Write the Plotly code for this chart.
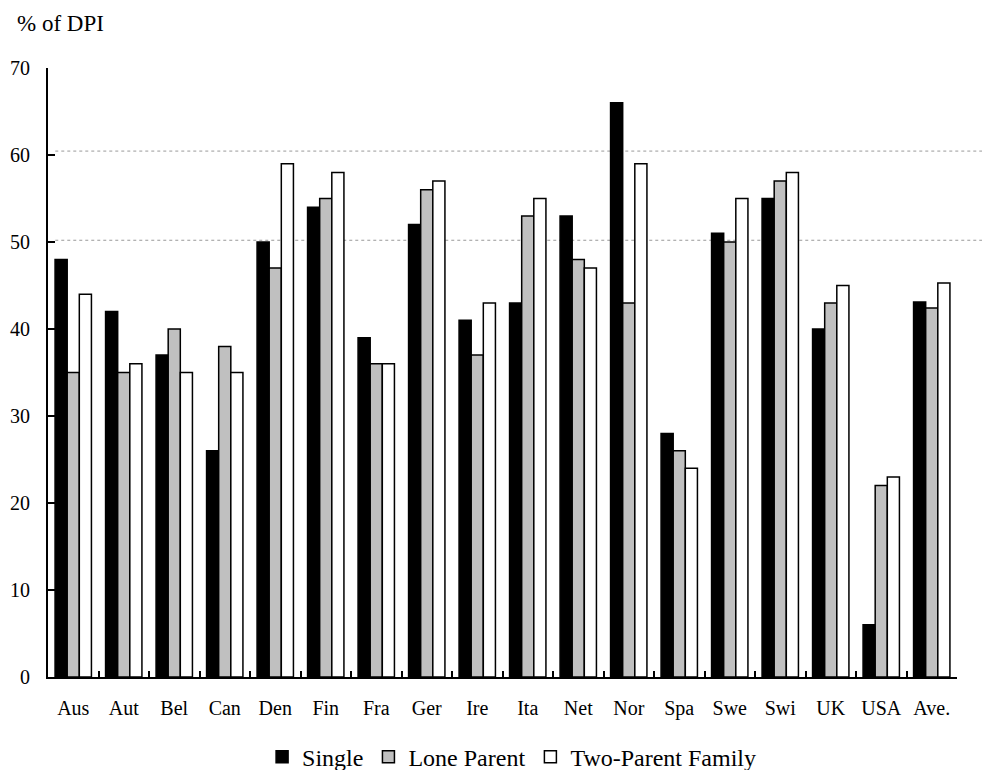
import plotly.graph_objects as go

countries = ['Aus', 'Aut', 'Bel', 'Can', 'Den', 'Fin', 'Fra', 'Ger', 'Ire',
             'Ita', 'Net', 'Nor', 'Spa', 'Swe', 'Swi', 'UK', 'USA', 'Ave.']
single = [48, 42, 37, 26, 50, 54, 39, 52, 41, 43, 53, 66, 28, 51, 55, 40, 6, 43.1]
lone_parent = [35, 35, 40, 38, 47, 55, 36, 56, 37, 53, 48, 43, 26, 50, 57, 43, 22, 42.4]
two_parent = [44, 36, 35, 35, 59, 58, 36, 57, 43, 55, 47, 59, 24, 55, 58, 45, 23, 45.3]
y_ticks = [0, 10, 20, 30, 40, 50, 60, 70]
ref_lines = [50.2, 60.45]

FONT = 'Liberation Serif, Times New Roman, serif'

fig = go.Figure()
for name, vals, color in [('Single', single, 'black'),
                          ('Lone Parent', lone_parent, '#c0c0c0'),
                          ('Two-Parent Family', two_parent, 'white')]:
    fig.add_trace(go.Bar(x=countries, y=vals, name=name,
                         marker=dict(color=color, line=dict(color='black', width=1.5))))

# dotted reference lines across the plot
for v in ref_lines:
    fig.add_shape(type='line', xref='paper', yref='y', x0=0.008, x1=1.04, y0=v, y1=v,
                  line=dict(color='#999999', width=1, dash='dot'), layer='below')

# axis unit label, top-left
fig.add_annotation(text='% of DPI', xref='paper', yref='paper', x=-0.036, y=1.097,
                   xanchor='left', yanchor='top', showarrow=False,
                   font=dict(size=23, family=FONT, color='black'))

# page body adds an 8px margin, so the figure is 16px smaller than the window
fig.update_layout(
    width=974, height=762,
    template='none',
    barmode='group', bargap=0.28, bargroupgap=0,
    plot_bgcolor='white', paper_bgcolor='white',
    margin=dict(l=40, r=25, t=60, b=93),
    font=dict(family=FONT, size=20, color='black'),
    showlegend=True,
    legend=dict(orientation='h', x=0.51, xanchor='center',
                yref='container', y=0.017, yanchor='middle',
                font=dict(size=24), itemwidth=30, traceorder='normal'),
    xaxis=dict(showline=True, linecolor='black', linewidth=2, ticks='inside',
               tickson='boundaries', ticklen=6, tickwidth=2, tickcolor='black',
               showgrid=False, tickangle=0, ticklabelstandoff=12, automargin=False),
    yaxis=dict(range=[0, 70], tickvals=y_ticks, showline=True, linecolor='black',
               linewidth=2, ticks='inside', ticklen=7, tickwidth=2, tickcolor='black',
               showgrid=False, zeroline=False, ticklabelstandoff=12, automargin=False),
)

fig.write_html('out.html')
